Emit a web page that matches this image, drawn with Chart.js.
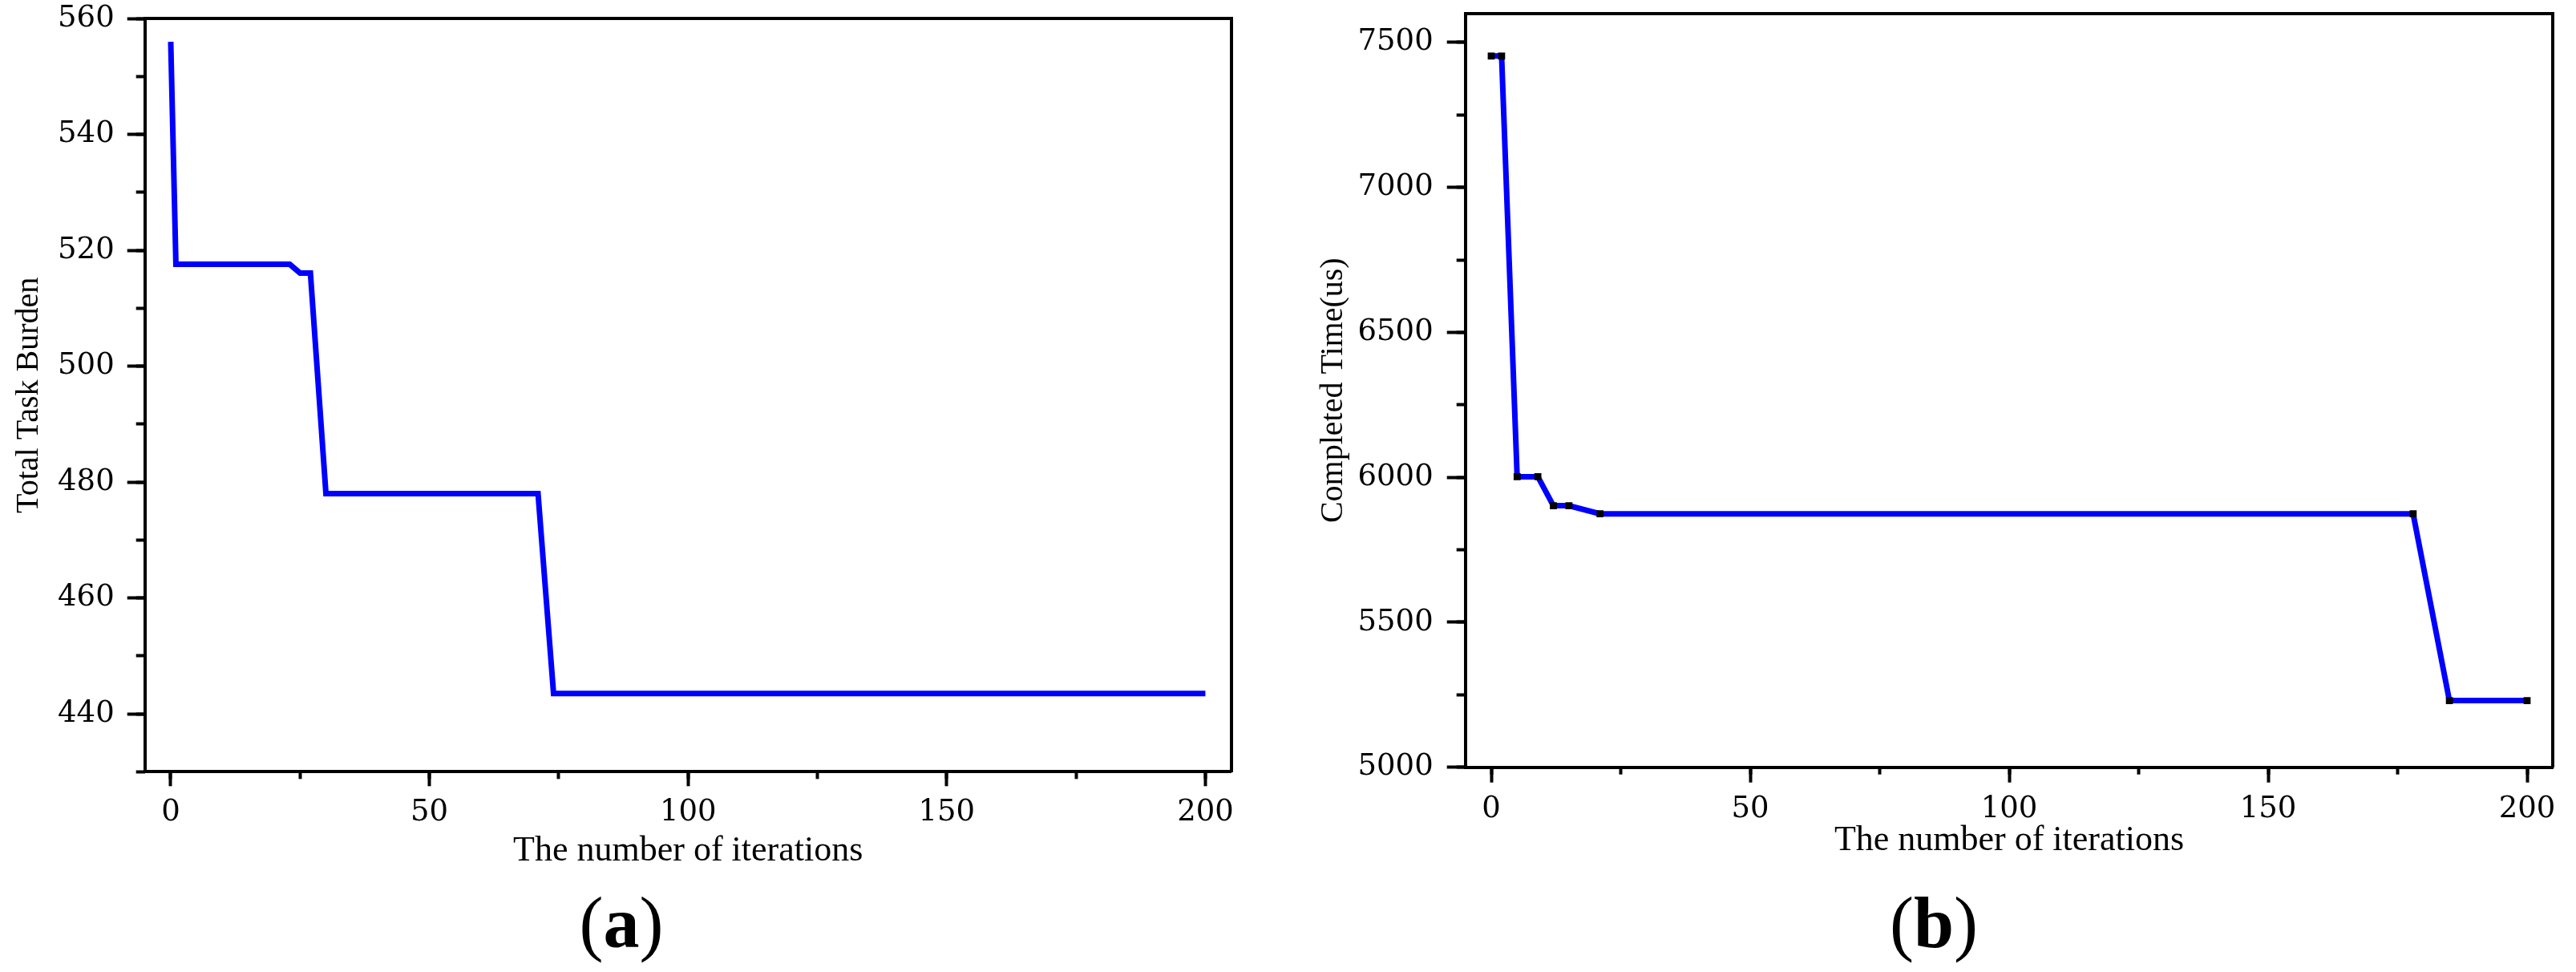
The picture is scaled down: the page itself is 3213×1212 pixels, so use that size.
<!DOCTYPE html>
<html>
<head>
<meta charset="utf-8">
<script src="https://cdn.jsdelivr.net/npm/chart.js@4.4.1/dist/chart.umd.min.js"></script>
<style>
  html, body { margin: 0; padding: 0; background: #fff; }
  body { width: 3213px; height: 1212px; position: relative; overflow: hidden; }
  canvas { position: absolute; top: 0; }
  #burden { left: 0; }
  #completed { left: 1600px; }
  .tag { position: absolute; top: 1106px; font-family: 'Liberation Serif', serif; font-size: 90px; line-height: 90px; color: #000; transform: translateX(-50%); white-space: nowrap; }
</style>
</head>
<body>
<canvas id="burden" width="1600" height="1100"></canvas>
<canvas id="completed" width="1613" height="1100"></canvas>
<div class="tag" style="left:775px">(<b>a</b>)</div>
<div class="tag" style="left:2412px">(<b>b</b>)</div>
<script>
// (a) total task burden vs iterations
const iterA = [0, 1, 23, 25, 27, 30, 71, 74, 200];
const burdenA = [556, 517.6, 517.6, 516.1, 516.1, 478, 478, 443.5, 443.5];

// (b) completed time vs iterations
const iterB = [0, 2, 5, 9, 12, 15, 21, 178, 185, 200];
const timeB = [7453, 7453, 6002, 6002, 5902, 5902, 5874, 5874, 5230, 5230];

// ticks
const xMajor = [0, 50, 100, 150, 200];
const xMinor = [0, 25, 50, 75, 100, 125, 150, 175, 200];
const yMajorA = [440, 460, 480, 500, 520, 540, 560];
const yMinorA = [430, 440, 450, 460, 470, 480, 490, 500, 510, 520, 530, 540, 550, 560];
const yMajorB = [5000, 5500, 6000, 6500, 7000, 7500];
const yMinorB = [5000, 5250, 5500, 5750, 6000, 6250, 6500, 6750, 7000, 7250, 7500];

const black = '#000000';
const blue = '#0000ff';
const tickFont = { family: 'DejaVu Serif', size: 37 };

function useTicks(values) {
    return (scale) => { scale.ticks = values.map((v) => ({ value: v })); };
}

function fixSize(size) {
    return (scale) => {
        if (scale.isHorizontal()) scale.height = size;
        else scale.width = size;
        scale.paddingTop = 0;
        scale.paddingBottom = 0;
        scale.paddingLeft = 0;
        scale.paddingRight = 0;
    };
}

function frameAxis(position) {
    return {
        type: 'linear',
        position: position,
        afterFit: fixSize(0),
        grid: { display: false },
        border: { display: true, color: black, width: 4 },
        ticks: { display: false }
    };
}

function minorAxis(position, min, max, values, length) {
    return {
        type: 'linear',
        position: position,
        min: min,
        max: max,
        weight: 0,
        afterBuildTicks: useTicks(values),
        afterFit: fixSize(0),
        grid: { drawOnChartArea: false, tickLength: length, tickWidth: 4, tickColor: black },
        border: { display: false },
        ticks: { display: false }
    };
}

function createChart(id, p) {
    const ctx = document.getElementById(id).getContext('2d');
    return new Chart(ctx, {
        type: 'line',
        data: {
            datasets: [{
                data: p.xs.map((x, i) => ({ x: x, y: p.ys[i] })),
                borderColor: blue,
                borderWidth: 7,
                tension: 0,
                fill: false,
                pointStyle: 'rect',
                pointRadius: p.marker,
                pointBackgroundColor: black,
                pointBorderWidth: 0,
                xAxisID: 'x',
                yAxisID: 'y'
            }]
        },
        options: {
            responsive: false,
            animation: false,
            devicePixelRatio: 1,
            layout: { padding: p.padding },
            plugins: { legend: { display: false }, tooltip: { enabled: false } },
            scales: {
                x: {
                    type: 'linear',
                    position: 'bottom',
                    min: -5,
                    max: 205,
                    weight: 1,
                    afterBuildTicks: useTicks(xMajor),
                    afterFit: fixSize(p.xHeight),
                    grid: { drawOnChartArea: false, tickLength: p.xTick, tickWidth: 4, tickColor: black },
                    border: { display: true, color: black, width: 4 },
                    ticks: { color: black, font: tickFont, padding: 11, maxRotation: 0, autoSkip: false, callback: (v) => String(v) },
                    title: {
                        display: true,
                        text: 'The number of iterations',
                        color: black,
                        font: { family: 'Liberation Serif', size: 44 },
                        padding: { top: 0, bottom: p.xTitlePad }
                    }
                },
                xMinor: minorAxis('bottom', -5, 205, xMinor, 9),
                xTop: frameAxis('top'),
                y: {
                    type: 'linear',
                    position: 'left',
                    min: p.yMin,
                    max: p.yMax,
                    weight: 1,
                    afterBuildTicks: useTicks(p.yMajor),
                    afterFit: fixSize(p.yWidth),
                    grid: { drawOnChartArea: false, tickLength: p.yTick, tickWidth: 4, tickColor: black },
                    border: { display: true, color: black, width: 4 },
                    ticks: { color: black, font: tickFont, padding: p.yTickPad, autoSkip: false, callback: (v) => String(v) },
                    title: {
                        display: true,
                        text: p.yTitle,
                        color: black,
                        font: { family: 'Liberation Serif', size: 40 },
                        padding: { top: p.yTitlePad, bottom: 0 }
                    }
                },
                yMinor: minorAxis('left', p.yMin, p.yMax, p.yMinor, 11),
                yRight: frameAxis('right')
            }
        }
    });
}

createChart('burden', {
    xs: iterA, ys: burdenA, marker: 0,
    yMin: 430, yMax: 560, yMajor: yMajorA, yMinor: yMinorA,
    yTitle: 'Total Task Burden',
    padding: { left: 0, top: 23.3, right: 64.3, bottom: 0 },
    xHeight: 137.7, xTick: 18, xTitlePad: 12,
    yWidth: 180.7, yTick: 22, yTickPad: 16, yTitlePad: 12
});

createChart('completed', {
    xs: iterB, ys: timeB, marker: 6.2,
    yMin: 5000, yMax: 7600, yMajor: yMajorB, yMinor: yMinorB,
    yTitle: 'Completed Time(us)',
    padding: { left: 0, top: 16.7, right: 28.7, bottom: 0 },
    xHeight: 143.3, xTick: 19, xTitlePad: 25,
    yWidth: 227.7, yTick: 23, yTickPad: 17, yTitlePad: 39.5
});
</script>
</body>
</html>
